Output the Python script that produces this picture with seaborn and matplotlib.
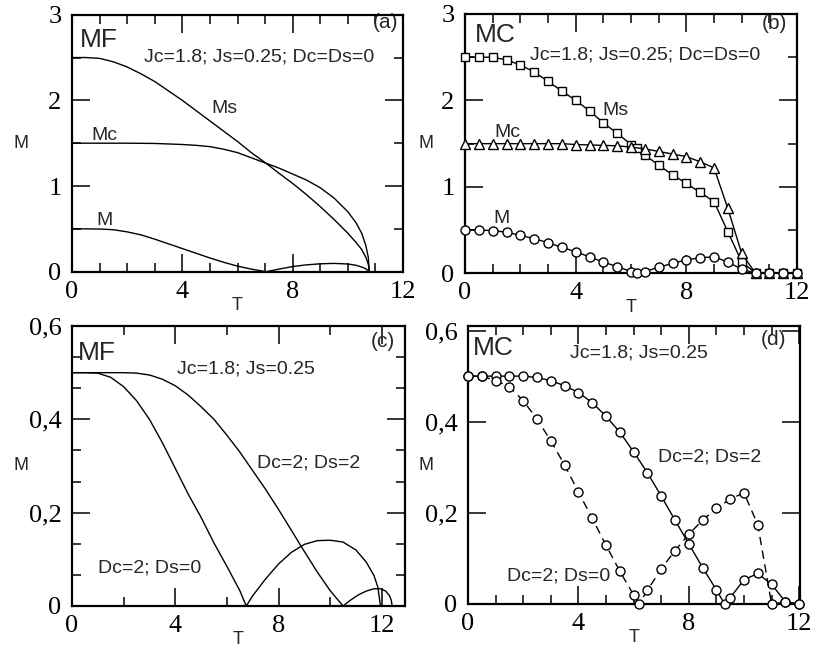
import matplotlib
matplotlib.use("Agg")
import matplotlib.pyplot as plt
import seaborn as sns
from matplotlib.ticker import FixedLocator, FixedFormatter, AutoMinorLocator, NullLocator

# ---------------- data ----------------
# (a) mean-field, Dc=Ds=0
a_ms_T = [0, 0.5, 1.0, 1.5, 2.0, 2.5, 3.0, 3.5, 4.0, 4.5, 5.0, 5.5, 6.0, 6.5, 7.04, 7.5, 8.0, 8.5,
          9.0, 9.5, 10.0, 10.3, 10.5, 10.65, 10.74, 10.78]
a_ms_M = [2.5, 2.5, 2.49, 2.45, 2.39, 2.31, 2.22, 2.11, 2.0, 1.88, 1.76, 1.64, 1.52, 1.39, 1.265, 1.15,
          1.03, 0.9, 0.76, 0.61, 0.45, 0.34, 0.26, 0.17, 0.09, 0.0]
a_mc_T = [0, 1, 2, 3, 4, 4.5, 5, 5.5, 6, 6.5, 7.04, 7.5, 8, 8.5, 9, 9.5, 10, 10.3, 10.5, 10.65,
          10.74, 10.78]
a_mc_M = [1.5, 1.5, 1.5, 1.497, 1.485, 1.475, 1.46, 1.43, 1.39, 1.33, 1.265, 1.21, 1.14, 1.07,
          0.98, 0.86, 0.70, 0.57, 0.45, 0.31, 0.17, 0.0]
a_m_T = [0, 0.5, 1.0, 1.5, 2, 2.5, 3, 3.5, 4, 4.5, 5, 5.5, 6, 6.5, 7.04, 7.5, 8, 8.5, 9, 9.5, 10,
         10.3, 10.5, 10.65, 10.78]
a_m_M = [0.5, 0.5, 0.498, 0.49, 0.465, 0.43, 0.38, 0.325, 0.27, 0.215, 0.16, 0.11, 0.065, 0.03,
         0.0, 0.03, 0.06, 0.08, 0.092, 0.097, 0.09, 0.075, 0.055, 0.035, 0.0]

# (b) Monte Carlo, Dc=Ds=0
b_T = [0, 0.5, 1, 1.5, 2, 2.5, 3, 3.5, 4, 4.5, 5, 5.5, 6, 6.2, 6.5, 7, 7.5, 8, 8.5, 9, 9.5, 10,
       10.5, 11, 11.5, 12]
b_ms = [2.5, 2.5, 2.5, 2.47, 2.41, 2.33, 2.22, 2.11, 2.0, 1.88, 1.74, 1.62, 1.49, 1.45, 1.37, 1.25,
        1.14, 1.04, 0.935, 0.83, 0.48, 0.135, 0, 0, 0, 0]
b_m = [0.5, 0.5, 0.495, 0.475, 0.44, 0.40, 0.355, 0.30, 0.25, 0.19, 0.13, 0.077, 0.02, 0.0, 0.02,
       0.07, 0.115, 0.155, 0.18, 0.19, 0.13, 0.048, 0, 0, 0, 0]
b_T_mc = [0, 0.5, 1, 1.5, 2, 2.5, 3, 3.5, 4, 4.5, 5, 5.5, 6, 6.5, 7, 7.5, 8, 8.5, 9, 9.5, 10,
          10.5, 11, 11.5, 12]
b_mc = [1.5, 1.5, 1.5, 1.5, 1.5, 1.5, 1.5, 1.5, 1.49, 1.485, 1.48, 1.475, 1.46, 1.44, 1.41, 1.38,
        1.35, 1.29, 1.22, 0.75, 0.23, 0, 0, 0, 0]

# (c) mean-field, Dc=2
c_ds0_T = [0, 0.5, 1.0, 1.5, 2.0, 2.5, 3.0, 3.5, 4.0, 4.5, 5.0, 5.5, 6.0, 6.5, 6.75, 7.0, 7.5, 8.0,
           8.5, 9.0, 9.5, 10.0, 10.5, 11.0, 11.4, 11.7, 11.85, 11.95]
c_ds0_M = [0.5, 0.5, 0.499, 0.49, 0.47, 0.44, 0.40, 0.35, 0.295, 0.24, 0.19, 0.135, 0.085, 0.033,
           0.0, 0.022, 0.058, 0.09, 0.115, 0.132, 0.14, 0.141, 0.137, 0.12, 0.094, 0.065, 0.04, 0.0]
c_ds2_T = [0, 1, 2, 2.5, 3, 3.5, 4, 4.5, 5, 5.5, 6, 6.5, 7, 7.5, 8, 8.5, 9, 9.5, 10, 10.5, 10.8,
           11.1, 11.4, 11.7, 11.95, 12.15, 12.3, 12.37, 12.4]
c_ds2_M = [0.5, 0.5, 0.5, 0.499, 0.495, 0.486, 0.472, 0.452, 0.427, 0.40, 0.366, 0.33, 0.29, 0.25,
           0.207, 0.162, 0.117, 0.073, 0.033, 0.0, 0.013, 0.024, 0.032, 0.037, 0.037, 0.032, 0.022,
           0.012, 0.0]

# (d) Monte Carlo, Dc=2
d_ds2_T = [0, 0.5, 1, 1.5, 2, 2.5, 3, 3.5, 4, 4.5, 5, 5.5, 6, 6.5, 7, 7.5, 8, 8.5, 9, 9.3, 9.5,
           10, 10.5, 11, 11.5, 12]
d_ds2_M = [0.5, 0.5, 0.5, 0.5, 0.5, 0.497, 0.49, 0.479, 0.464, 0.442, 0.412, 0.377, 0.334, 0.288,
           0.237, 0.184, 0.132, 0.08, 0.031, 0.0, 0.014, 0.053, 0.067, 0.043, 0.005, 0.0]
d_ds0_T = [0, 0.5, 1, 1.5, 2, 2.5, 3, 3.5, 4, 4.5, 5, 5.5, 6, 6.2, 6.5, 7, 7.5, 8, 8.5, 9, 9.5, 10,
           10.5, 11, 11.5, 12]
d_ds0_M = [0.5, 0.5, 0.49, 0.477, 0.446, 0.406, 0.358, 0.305, 0.246, 0.188, 0.129, 0.072, 0.02,
           0.0, 0.03, 0.077, 0.117, 0.153, 0.184, 0.21, 0.23, 0.244, 0.174, 0.0, 0.004, 0.0]

# tick labels
x_ticks = [0, 4, 8, 12]
x_ticklabels = ["0", "4", "8", "12"]
y_ticks_top = [0, 1, 2, 3]
y_ticklabels_top = ["0", "1", "2", "3"]
y_ticks_bot = [0, 0.2, 0.4, 0.6]
y_ticklabels_bot = ["0", "0,2", "0,4", "0,6"]

# ---------------- style ----------------
sns.set_style("ticks")
plt.rcParams['font.family'] = ['Liberation Sans', 'DejaVu Sans']
plt.rcParams['axes.linewidth'] = 1.5

W, H = 813, 653
fig = plt.figure(figsize=(W / 100, H / 100), dpi=100)


def make_axes(l, r, t, b):
    return fig.add_axes([l / W, 1 - b / H, (r - l) / W, (b - t) / H])


ax_a = make_axes(72, 403, 14.7, 271.7)
ax_b = make_axes(465, 797, 14.0, 273.3)
ax_c = make_axes(72, 405, 326, 606)
ax_d = make_axes(468, 800, 326, 604)


def style(ax, xlim, ylim, yt, ytl, xminor, yminor, label_h, ylab_dx):
    ax.set_xlim(*xlim)
    ax.set_ylim(*ylim)
    ax.xaxis.set_major_locator(FixedLocator(x_ticks))
    ax.xaxis.set_major_formatter(FixedFormatter(x_ticklabels))
    ax.yaxis.set_major_locator(FixedLocator(yt))
    ax.yaxis.set_major_formatter(FixedFormatter(ytl))
    ax.xaxis.set_minor_locator(AutoMinorLocator(xminor))
    if yminor:
        ax.yaxis.set_minor_locator(AutoMinorLocator(yminor))
    else:
        ax.yaxis.set_minor_locator(NullLocator())
    ax.tick_params(which='both', direction='in', top=True, right=True, width=1.1, color='black')
    ax.tick_params(which='major', length=13)
    ax.tick_params(which='minor', length=6.5)
    ax.tick_params(axis='x', which='major', pad=6.5, labelsize=19,
                   labelfontfamily='Liberation Serif', labelcolor='black')
    ax.tick_params(axis='y', which='major', pad=7.5, labelsize=19,
                   labelfontfamily='Liberation Serif', labelcolor='black')
    for s in ax.spines.values():
        s.set_linewidth(1.6)
        s.set_color('black')
        s.set_zorder(5)
    ax.set_xlabel("T", fontsize=13, va='center')
    ax.set_ylabel("M", fontsize=13, rotation=0, ha='center', va='center')
    ax.xaxis.set_label_coords(0.5, -34 / label_h)
    ax.yaxis.set_label_coords(-ylab_dx / 332, 0.5)


style(ax_a, (0, 12), (0, 3), y_ticks_top, y_ticklabels_top, 4, 2, 257, 51)
style(ax_b, (0, 12), (0, 3), y_ticks_top, y_ticklabels_top, 4, 2, 259, 39)
style(ax_c, (0, 12.9), (0, 0.6), y_ticks_bot, y_ticklabels_bot, 2, 3, 280, 51)
style(ax_d, (0, 12.03), (0, 0.61), y_ticks_bot, y_ticklabels_bot, 4, 0, 278, 42)

line_kw = dict(color='black', linewidth=1.0, estimator=None, sort=False, errorbar=None)
mk_kw = dict(mfc='white', mec='black', mew=1.0, clip_on=False, zorder=6)

# (a)
for T, M in [(a_ms_T, a_ms_M), (a_mc_T, a_mc_M), (a_m_T, a_m_M)]:
    sns.lineplot(x=T, y=M, ax=ax_a, **line_kw)
# (b)
sns.lineplot(x=b_T, y=b_ms, ax=ax_b, marker='s', markersize=6, **line_kw, **mk_kw)
sns.lineplot(x=b_T_mc, y=b_mc, ax=ax_b, marker='^', markersize=6.5, **line_kw, **mk_kw)
sns.lineplot(x=b_T, y=b_m, ax=ax_b, marker='o', markersize=6.5, **line_kw, **mk_kw)
# (c)
sns.lineplot(x=c_ds0_T, y=c_ds0_M, ax=ax_c, **line_kw)
sns.lineplot(x=c_ds2_T, y=c_ds2_M, ax=ax_c, **line_kw)
# (d)
sns.lineplot(x=d_ds2_T, y=d_ds2_M, ax=ax_d, marker='o', markersize=6.5, **line_kw, **mk_kw)
sns.lineplot(x=d_ds0_T, y=d_ds0_M, ax=ax_d, marker='o', markersize=6.5, linestyle=(0, (6, 4)),
             **line_kw, **mk_kw)

# ---------------- annotations ----------------
big = dict(fontsize=19, va='baseline')
mid = dict(fontsize=14, va='baseline')
tag = dict(fontsize=15, va='baseline', ha='right')

ax_a.text(0.024, 0.874, "MF", transform=ax_a.transAxes, **big)
ax_a.text(0.985, 0.948, "(a)", transform=ax_a.transAxes, **tag)
ax_a.text(0.566, 0.816, "Jc=1.8; Js=0.25; Dc=Ds=0", transform=ax_a.transAxes, ha='center', **mid)
ax_a.text(5.06, 1.85, "Ms", ha='left', **mid)
ax_a.text(0.72, 1.54, "Mc", ha='left', **mid)
ax_a.text(0.9, 0.55, "M", ha='left', **mid)

ax_b.text(0.03, 0.892, "MC", transform=ax_b.transAxes, **big)
ax_b.text(0.97, 0.942, "(b)", transform=ax_b.transAxes, **tag)
ax_b.text(0.542, 0.823, "Jc=1.8; Js=0.25; Dc=Ds=0", transform=ax_b.transAxes, ha='center', **mid)
ax_b.text(4.96, 1.83, "Ms", ha='left', **mid)
ax_b.text(1.05, 1.58, "Mc", ha='left', **mid)
ax_b.text(1.01, 0.58, "M", ha='left', **mid)

ax_c.text(0.018, 0.879, "MF", transform=ax_c.transAxes, **big)
ax_c.text(0.97, 0.925, "(c)", transform=ax_c.transAxes, **tag)
ax_c.text(0.523, 0.832, "Jc=1.8; Js=0.25", transform=ax_c.transAxes, ha='center', **mid)
ax_c.text(0.556, 0.496, "Dc=2; Ds=2", transform=ax_c.transAxes, ha='left', **mid)
ax_c.text(0.078, 0.118, "Dc=2; Ds=0", transform=ax_c.transAxes, ha='left', **mid)

ax_d.text(0.015, 0.896, "MC", transform=ax_d.transAxes, **big)
ax_d.text(0.958, 0.93, "(d)", transform=ax_d.transAxes, **tag)
ax_d.text(0.515, 0.885, "Jc=1.8; Js=0.25", transform=ax_d.transAxes, ha='center', **mid)
ax_d.text(0.572, 0.511, "Dc=2; Ds=2", transform=ax_d.transAxes, ha='left', **mid)
ax_d.text(0.117, 0.086, "Dc=2; Ds=0", transform=ax_d.transAxes, ha='left', **mid)

fig.savefig("out.png", dpi=100)
